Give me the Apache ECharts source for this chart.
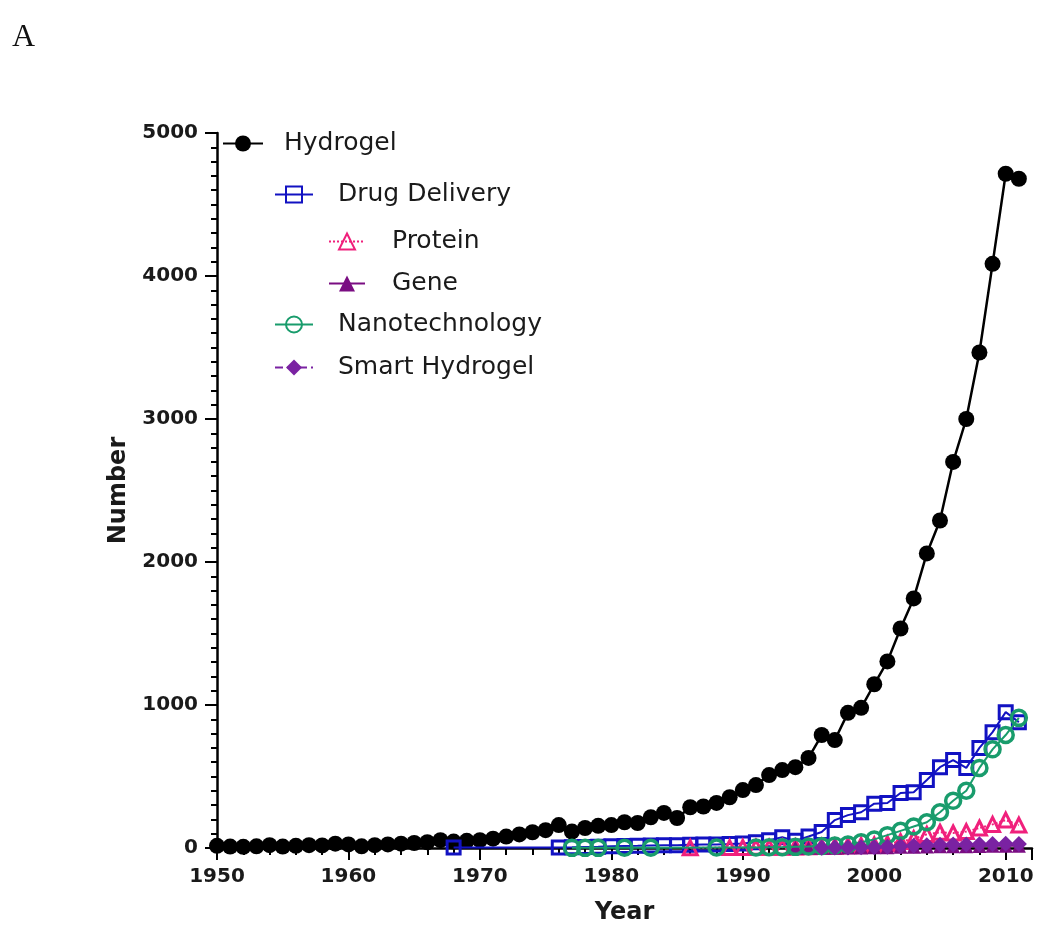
<!DOCTYPE html>
<html><head><meta charset="utf-8">
<script src="https://cdn.jsdelivr.net/npm/echarts@6/dist/echarts.min.js"></script>
<style>html,body{margin:0;padding:0;background:#fff}#c{width:1050px;height:939px}</style>
</head><body><div id="c"></div>
<script>
// ---- data ----
const years = [1950,1951,1952,1953,1954,1955,1956,1957,1958,1959,
  1960,1961,1962,1963,1964,1965,1966,1967,1968,1969,
  1970,1971,1972,1973,1974,1975,1976,1977,1978,1979,
  1980,1981,1982,1983,1984,1985,1986,1987,1988,1989,
  1990,1991,1992,1993,1994,1995,1996,1997,1998,1999,
  2000,2001,2002,2003,2004,2005,2006,2007,2008,2009,
  2010,2011];
const hydrogel = [15,10,8,12,20,10,15,20,18,30,
  25,12,20,25,30,35,40,55,45,50,
  55,65,80,95,110,125,160,115,140,155,
  160,180,175,215,245,210,285,290,315,355,
  405,440,510,545,565,630,790,755,945,980,
  1145,1305,1535,1745,2060,2290,2700,3000,3465,4085,
  4715,4680];
// series that start later: first year + values (null = no point that year)
const drugStart = 1968;
const drugDelivery = [3,null,null,null,null,null,null,null,
  4,5,7,9,12,14,15,18,20,20,
  22,24,25,28,32,40,55,75,50,80,
  112,195,230,250,310,315,385,390,475,565,
  615,560,700,810,950,880];
const nanoStart = 1977;
const nanotechnology = [1,1,1,null,2,null,2,null,null,null,null,3,null,null,
  4,5,6,8,10,14,18,25,40,60,90,120,150,180,250,330,400,560,690,790,910];
const proteinStart = 1986;
const protein = [2,null,null,3,4,5,5,6,7,8,10,12,15,18,22,30,45,65,95,110,105,115,140,165,195,160];
const geneStart = 1994;
const gene = [1,1,2,2,3,4,5,6,8,9,10,12,12,13,14,15,16,15];
const smartStart = 1996;
const smartHydrogel = [2,3,4,5,6,8,12,15,20,22,24,25,26,28,30,28];
const xTicks = {min:1950, max:2012, interval:10};
const yTicks = {min:0, max:5000, interval:1000};

function pairs(start, vals){ return vals.map((v,i)=>[start+i, v]); }

const FONT = "'DejaVu Sans', Arial, sans-serif";
const TXT = '#1a1a1a';
const C = {hyd:'#000000', drug:'#1212c2', prot:'#f0207c', gene:'#7a0d82', nano:'#199c6c', smart:'#7a22a2'};

const legendBase = {orient:'horizontal', padding:0, itemHeight:20, selectedMode:false,
  textStyle:{fontFamily:FONT, fontSize:25, color:TXT, lineHeight:20}};
function lg(name, left, cy, w, pad){
  return Object.assign({}, legendBase, {data:[name], left:left, top:cy-10, itemWidth:w,
    textStyle:Object.assign({}, legendBase.textStyle, {padding:[0,0,0,pad]})});
}

const chart = echarts.init(document.getElementById('c'), null, {renderer:'canvas'});
chart.setOption({
  backgroundColor:'#fff',
  animation:false,
  graphic:[{type:'text', left:12, top:22, style:{text:'A', font:"32px 'Liberation Serif', 'Times New Roman', serif", fill:'#111'}}],
  grid:{left:217, top:133, right:18, bottom:91, containLabel:false, outerBoundsMode:'none'},
  legend:[
    lg('Hydrogel', 222, 141, 40, 16),
    lg('Drug Delivery', 274, 192, 38, 20),
    lg('Protein', 328, 239, 36, 22),
    lg('Gene', 328, 281, 36, 22),
    lg('Nanotechnology', 274, 322, 38, 20),
    lg('Smart Hydrogel', 274, 365, 38, 20)
  ],
  xAxis:{type:'value', min:xTicks.min, max:xTicks.max, interval:xTicks.interval,
    name:'Year', nameLocation:'middle', nameGap:53,
    nameTextStyle:{fontFamily:FONT, fontSize:24, fontWeight:'bold', color:TXT},
    axisLine:{show:true, onZero:false, lineStyle:{color:'#000', width:2.5}},
    axisTick:{show:true, length:12, lineStyle:{color:'#000', width:2}},
    minorTick:{show:true, splitNumber:5, length:7, lineStyle:{color:'#000', width:2}},
    splitLine:{show:false}, minorSplitLine:{show:false},
    axisLabel:{fontFamily:FONT, fontSize:20, fontWeight:'bold', color:TXT, margin:19, showMaxLabel:false,
      formatter:v=>String(v)}},
  yAxis:{type:'value', min:yTicks.min, max:yTicks.max, interval:yTicks.interval,
    name:'Number', nameLocation:'middle', nameGap:86,
    nameTextStyle:{fontFamily:FONT, fontSize:24, fontWeight:'bold', color:TXT},
    axisLine:{show:true, onZero:false, lineStyle:{color:'#000', width:2.5}},
    axisTick:{show:true, length:12, lineStyle:{color:'#000', width:2}},
    minorTick:{show:true, splitNumber:10, length:6, lineStyle:{color:'#000', width:2}},
    splitLine:{show:false}, minorSplitLine:{show:false},
    axisLabel:{fontFamily:FONT, fontSize:20, fontWeight:'bold', color:TXT, margin:19,
      formatter:v=>String(v)}},
  series:[
    {name:'Hydrogel', type:'line', data:pairs(years[0], hydrogel), color:C.hyd,
      symbol:'circle', symbolSize:16, showAllSymbol:true, z:2,
      lineStyle:{color:C.hyd, width:2.5}, itemStyle:{color:C.hyd}},
    {name:'Drug Delivery', type:'line', data:pairs(drugStart, drugDelivery), color:C.drug, connectNulls:true,
      symbol:'rect', symbolSize:13, showAllSymbol:true, z:3,
      lineStyle:{color:C.drug, width:2}, itemStyle:{color:'rgba(255,255,255,0)', borderColor:C.drug, borderWidth:3}},
    {name:'Protein', type:'line', data:pairs(proteinStart, protein), color:C.prot, connectNulls:true,
      symbol:'triangle', symbolSize:14, showAllSymbol:true, z:4,
      lineStyle:{color:C.prot, width:2, type:'dotted'}, itemStyle:{color:'rgba(255,255,255,0)', borderColor:C.prot, borderWidth:3}},
    {name:'Gene', type:'line', data:pairs(geneStart, gene), color:C.gene, connectNulls:true,
      symbol:'triangle', symbolSize:14, showAllSymbol:true, z:4,
      lineStyle:{color:C.gene, width:2}, itemStyle:{color:C.gene}},
    {name:'Nanotechnology', type:'line', data:pairs(nanoStart, nanotechnology), color:C.nano, connectNulls:true,
      symbol:'circle', symbolSize:15, showAllSymbol:true, z:5,
      lineStyle:{color:C.nano, width:2}, itemStyle:{color:'rgba(255,255,255,0)', borderColor:C.nano, borderWidth:3.5}},
    {name:'Smart Hydrogel', type:'line', data:pairs(smartStart, smartHydrogel), color:C.smart, connectNulls:true,
      symbol:'diamond', symbolSize:16, showAllSymbol:true, z:6,
      lineStyle:{color:C.smart, width:2, type:'dashed'}, itemStyle:{color:C.smart}}
  ]
});
</script></body></html>
